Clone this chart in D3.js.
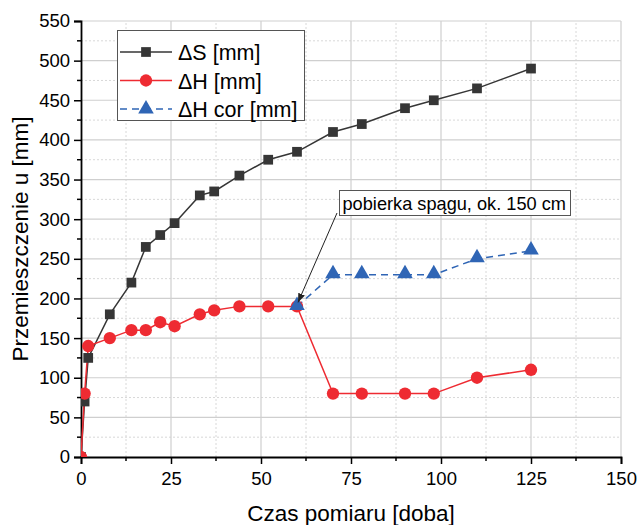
<!DOCTYPE html>
<html lang="pl">
<head>
<meta charset="UTF-8">
<title>Przemieszczenie u</title>
<script src="https://d3js.org/d3.v7.min.js"></script>
<style>
  body { margin: 0; background: #fff; }
  svg { font-family: Arial, "Liberation Sans", sans-serif; }
</style>
</head>
<body>
<div id="chart"></div>
<script>
// czas pomiaru [doba]
const days = [0, 1, 2, 8, 14, 18, 22, 26, 33, 37, 44, 52, 60, 70, 78, 90, 98, 110, 125];
const dS   = [0, 70, 125, 180, 220, 265, 280, 295, 330, 335, 355, 375, 385, 410, 420, 440, 450, 465, 490];
const dH   = [0, 80, 140, 150, 160, 160, 170, 165, 180, 185, 190, 190, 190, 80, 80, 80, 80, 100, 110];
const corDays = [60, 70, 78, 90, 98, 110, 125];
const dHcor   = [190, 230, 230, 230, 230, 250, 260];

const xTicks = [0, 25, 50, 75, 100, 125, 150];
const yTicks = [0, 50, 100, 150, 200, 250, 300, 350, 400, 450, 500, 550];

const width = 639, height = 525;
const margin = { left: 81, right: 18, top: 21, bottom: 68 };

const svg = d3.select("#chart").append("svg")
    .attr("width", width)
    .attr("height", height);

const x = d3.scaleLinear().domain([0, 150]).range([margin.left, width - margin.right]);
const y = d3.scaleLinear().domain([0, 550]).range([height - margin.bottom, margin.top]);

// siatka pomocnicza (przerywana)
const minorX = d3.range(12.5, 150, 25);
const minorY = d3.range(25, 550, 50);
svg.append("g").selectAll("line").data(minorX).join("line")
    .attr("x1", d => x(d)).attr("x2", d => x(d))
    .attr("y1", y(0)).attr("y2", y(550))
    .attr("stroke", "#d8d8d8").attr("stroke-dasharray", "2,2");
svg.append("g").selectAll("line").data(minorY).join("line")
    .attr("x1", x(0)).attr("x2", x(150))
    .attr("y1", d => y(d)).attr("y2", d => y(d))
    .attr("stroke", "#d8d8d8").attr("stroke-dasharray", "2,2");

// siatka glowna
svg.append("g").selectAll("line").data(xTicks.slice(1)).join("line")
    .attr("x1", d => x(d)).attr("x2", d => x(d))
    .attr("y1", y(0)).attr("y2", y(550))
    .attr("stroke", "#cfcfcf").attr("stroke-width", 1.2);
svg.append("g").selectAll("line").data(yTicks.slice(1)).join("line")
    .attr("x1", x(0)).attr("x2", x(150))
    .attr("y1", d => y(d)).attr("y2", d => y(d))
    .attr("stroke", "#cfcfcf").attr("stroke-width", 1.2);

// osie
const xAxis = svg.append("g")
    .attr("transform", `translate(0,${y(0)})`)
    .call(d3.axisBottom(x).tickValues(xTicks).tickSize(7).tickPadding(8));
const yAxis = svg.append("g")
    .attr("transform", `translate(${x(0)},0)`)
    .call(d3.axisLeft(y).tickValues(yTicks).tickSize(7).tickPadding(4));

[xAxis, yAxis].forEach(g => {
    g.select(".domain").attr("stroke", "#000").attr("stroke-width", 1.8);
    g.selectAll(".tick line").attr("stroke", "#000").attr("stroke-width", 1.5);
    g.selectAll(".tick text").attr("font-size", 18.5).attr("fill", "#000")
        .attr("font-family", "Arial, 'Liberation Sans', sans-serif");
});

// podzialki pomocnicze
xAxis.selectAll(".minor").data(minorX).join("line")
    .attr("x1", d => x(d)).attr("x2", d => x(d))
    .attr("y1", 0).attr("y2", 4)
    .attr("stroke", "#000").attr("stroke-width", 1.5);
yAxis.selectAll(".minor").data(minorY).join("line")
    .attr("y1", d => y(d)).attr("y2", d => y(d))
    .attr("x1", 0).attr("x2", -4)
    .attr("stroke", "#000").attr("stroke-width", 1.5);

// tytuly osi
svg.append("text")
    .attr("x", (x(0) + x(150)) / 2).attr("y", 521)
    .attr("text-anchor", "middle").attr("font-size", 22.5)
    .text("Czas pomiaru [doba]");
svg.append("text")
    .attr("transform", `translate(28,${(y(0) + y(550)) / 2}) rotate(-90)`)
    .attr("text-anchor", "middle").attr("font-size", 22.5)
    .text("Przemieszczenie u [mm]");

// obszar rysunku
svg.append("clipPath").attr("id", "plot-clip")
    .append("rect")
    .attr("x", x(0)).attr("y", y(550) - 10)
    .attr("width", x(150) - x(0)).attr("height", y(0) - y(550) + 10);

const plot = svg.append("g").attr("clip-path", "url(#plot-clip)");

const colS = "#363636", colH = "#ee2b32", colCor = "#2f65b5";
const line = d3.line().x(d => x(d[0])).y(d => y(d[1]));

const sData = d3.zip(days, dS);
const hData = d3.zip(days, dH);
const cData = d3.zip(corDays, dHcor);

plot.append("path").datum(sData).attr("d", line)
    .attr("fill", "none").attr("stroke", colS).attr("stroke-width", 1.5);
plot.append("path").datum(hData).attr("d", line)
    .attr("fill", "none").attr("stroke", colH).attr("stroke-width", 1.5);
plot.append("path").datum(cData).attr("d", line)
    .attr("fill", "none").attr("stroke", colCor).attr("stroke-width", 1.5)
    .attr("stroke-dasharray", "7,5");

const sq = d3.symbol().type(d3.symbolSquare).size(95);
const circ = d3.symbol().type(d3.symbolCircle).size(120);
const tri = d3.symbol().type(d3.symbolTriangle).size(105);

plot.append("g").selectAll("path").data(sData).join("path")
    .attr("d", sq).attr("fill", colS)
    .attr("transform", d => `translate(${x(d[0])},${y(d[1])})`);
plot.append("g").selectAll("path").data(hData).join("path")
    .attr("d", circ).attr("fill", colH)
    .attr("transform", d => `translate(${x(d[0])},${y(d[1])})`);
plot.append("g").selectAll("path").data(cData).join("path")
    .attr("d", tri).attr("fill", colCor)
    .attr("transform", d => `translate(${x(d[0])},${y(d[1]) - 1})`);

// legenda
const legend = svg.append("g");
legend.append("rect")
    .attr("x", 117.5).attr("y", 30.5).attr("width", 187).attr("height", 90)
    .attr("fill", "#fff").attr("stroke", "#555").attr("stroke-width", 1);
const legItems = [
    { label: "ΔS [mm]", color: colS, sym: sq, dash: null },
    { label: "ΔH [mm]", color: colH, sym: circ, dash: null },
    { label: "ΔH cor [mm]", color: colCor, sym: tri, dash: "7,5" }
];
legItems.forEach((d, i) => {
    const ly = 52 + i * 28.5;
    legend.append("line")
        .attr("x1", 120).attr("x2", 172).attr("y1", ly).attr("y2", ly)
        .attr("stroke", d.color).attr("stroke-width", 1.5)
        .attr("stroke-dasharray", d.dash);
    legend.append("path").attr("d", d.sym).attr("fill", d.color)
        .attr("transform", `translate(146,${ly})`);
    legend.append("text")
        .attr("x", 178).attr("y", ly + 8)
        .attr("font-size", 21.5)
        .text(d.label);
});

// adnotacja
const ann = svg.append("g");
ann.append("rect")
    .attr("x", 339.5).attr("y", 190.5).attr("width", 231).attr("height", 25)
    .attr("fill", "#fff").attr("stroke", "#555");
ann.append("text")
    .attr("x", 342.5).attr("y", 209.5)
    .attr("font-size", 18.2)
    .text("pobierka spągu, ok. 150 cm");

svg.append("defs").append("marker")
    .attr("id", "arrow").attr("viewBox", "0 0 10 10")
    .attr("refX", 10).attr("refY", 5)
    .attr("markerWidth", 9).attr("markerHeight", 9)
    .attr("orient", "auto-start-reverse")
    .append("path").attr("d", "M0,1 L10,5 L0,9 Z").attr("fill", "#222");
ann.append("line")
    .attr("x1", 337).attr("y1", 213)
    .attr("x2", x(60) + 1).attr("y2", y(190) - 4)
    .attr("stroke", "#222").attr("stroke-width", 1)
    .attr("marker-end", "url(#arrow)");
</script>
</body>
</html>
